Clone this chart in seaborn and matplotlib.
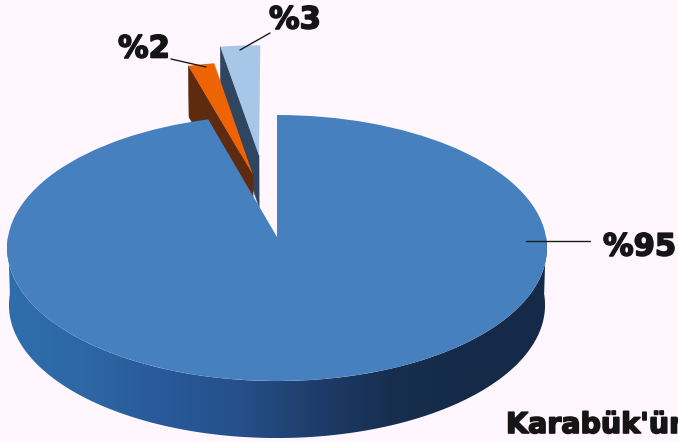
import numpy as np
import matplotlib
matplotlib.use("Agg")
import matplotlib.pyplot as plt
import matplotlib.patheffects as pe
from matplotlib.colors import LinearSegmentedColormap
from matplotlib.patches import Polygon
from matplotlib.transforms import Transform
import seaborn as sns

# Data
shares = [95.55, 1.75, 2.7]
labels = ["%95", "%2", "%3"]
note = "Karabük'ün"

# Styles
BG = "#FFF7FD"
top_colors = ["#4680BF", "#EE6404", "#A7C7E9"]
wall_colors = [None, "#5E2A10", "#2F4560"]
wall_ramp = ["#2F6EAC", "#2D67A4", "#29599A", "#25508A", "#1F3D6B", "#172E4E", "#152A48", "#152A48"]
slice_offsets = [(0, 0), (-0.093, 0.49), (-0.0705, 0.65)]
CX, CY, RX, RY, PERSP, DEPTH, SHRINK = 277, 237, 269, 132.1, 0.0828, 57, 0.993

sns.set_theme(style="white")
plt.rcParams["font.family"] = ["DejaVu Sans"]


def project(xy, depth=0.0, shrink=1.0):
    xy = np.atleast_2d(xy)
    w = 1 + PERSP * xy[:, 1]
    return np.column_stack([CX + shrink * RX * xy[:, 0] / w,
                            CY - RY * xy[:, 1] / w + depth])


class Perspective(Transform):
    input_dims = output_dims = 2
    is_affine = False
    has_inverse = False

    def transform_non_affine(self, values):
        return project(values)


fig = plt.figure(figsize=(6.78, 4.42), dpi=100, facecolor=BG)
ax = fig.add_axes([0, 0, 1, 1], facecolor=BG)

wedges, _ = ax.pie(shares, colors=top_colors, startangle=90, counterclock=False,
                   radius=1, wedgeprops={"linewidth": 0})

to_screen = Perspective() + ax.transData
for w, off in zip(wedges, slice_offsets):
    w.set_center(off)
    w.set_transform(to_screen)


def circle(theta, center):
    t = np.radians(theta)
    return np.column_stack([center[0] + np.cos(t), center[1] + np.sin(t)])


# Rim wall of the large slice: a horizontal colour ramp clipped to the wall outline
arc = circle(np.linspace(180, 360, 241), slice_offsets[0])
outline = np.vstack([project(arc), project(arc, DEPTH, SHRINK)[::-1]])
wall_patch = Polygon(outline, closed=True, transform=ax.transData, fc="none", ec="none")
ax.add_patch(wall_patch)
cmap = LinearSegmentedColormap.from_list("wall", sns.blend_palette(wall_ramp, 256))
img = ax.imshow(np.linspace(0, 1, 540)[None, :], cmap=cmap, aspect="auto",
                extent=(outline[:, 0].min(), outline[:, 0].max(),
                        outline[:, 1].max(), outline[:, 1].min()),
                zorder=5, interpolation="bilinear")
img.set_clip_path(wall_patch)
wedges[0].set_zorder(6)

# Cut faces of the two pulled-out slices
for i, z in ((2, 1), (1, 3)):
    w, off = wedges[i], slice_offsets[i]
    outer = circle([w.theta2], off)
    apex = np.atleast_2d(off)
    top = np.vstack([project(outer), project(apex)])
    low = np.vstack([project(apex, DEPTH * 0.9, SHRINK), project(outer, DEPTH * 0.9, SHRINK)])
    ax.fill(*np.vstack([top, low]).T, color=wall_colors[i], lw=0.4, zorder=z)
    w.set_zorder(z + 1)

ax.set_aspect("auto")
ax.set_xlim(0, 678)
ax.set_ylim(442, 0)
ax.axis("off")

# Labels and leader lines
stroke = [pe.withStroke(linewidth=1.2, foreground="#151515")]
style = dict(fontweight="bold", color="#151515", path_effects=stroke, zorder=10)
ax.text(603, 247, labels[0], ha="left", va="center", fontsize=22, **style)
ax.text(118, 49, labels[1], ha="left", va="center", fontsize=22, **style)
ax.text(269, 20, labels[2], ha="left", va="center", fontsize=22, **style)
ax.text(506, 433, note, ha="left", va="baseline", fontsize=20.5, clip_on=False, **style)

ax.plot([526, 590], [241, 241], color="#1b1b1b", lw=1, zorder=9)
ax.plot([171, 206], [59, 67], color="#1b1b1b", lw=1, zorder=9)
ax.plot([240, 270], [50, 33], color="#1b1b1b", lw=1, zorder=9)

fig.savefig("out.png", dpi=100, facecolor=BG)
